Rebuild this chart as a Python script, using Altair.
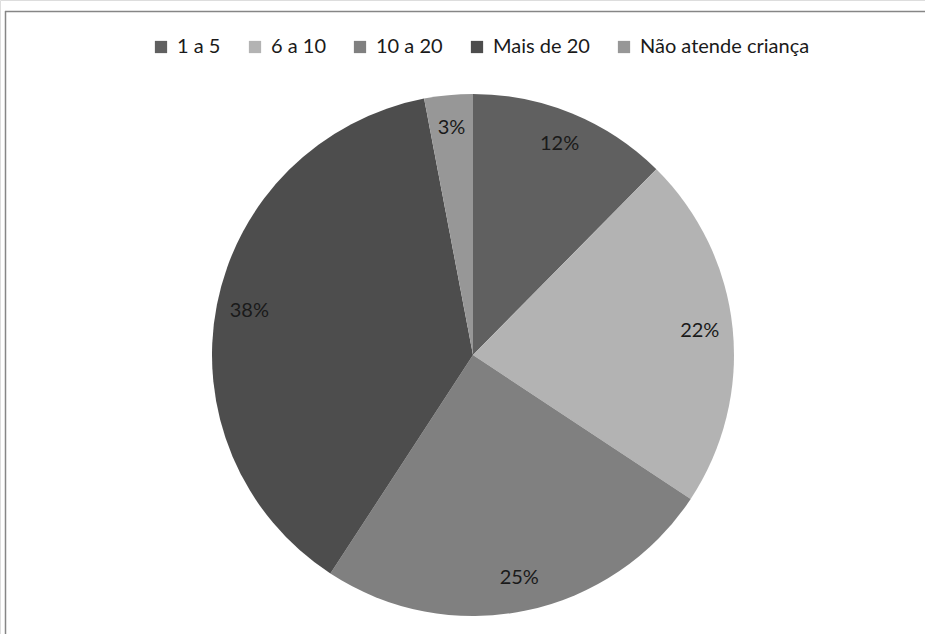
import altair as alt
import pandas as pd

categories = ["1 a 5", "6 a 10", "10 a 20", "Mais de 20", "Não atende criança"]
values = [12.4, 21.9, 24.9, 37.8, 3.0]
labels = ["12%", "22%", "25%", "38%", "3%"]
colors = ["#606060", "#b3b3b3", "#808080", "#4d4d4d", "#979797"]

df = pd.DataFrame({
    "cat": categories,
    "val": values,
    "label": labels,
    "idx": list(range(len(categories))),
})

CX, CY, R = 473, 355, 261

one = pd.DataFrame({"a": [0]})
top_line = alt.Chart(one).mark_rule(color="#868686", strokeWidth=1.5).encode(
    x=alt.value(5), x2=alt.value(925), y=alt.value(11.5)
)
left_line = alt.Chart(one).mark_rule(color="#868686", strokeWidth=1.5).encode(
    x=alt.value(5.5), y=alt.value(11), y2=alt.value(634)
)

base = alt.Chart(df).encode(
    theta=alt.Theta("val:Q", stack=True),
    order=alt.Order("idx:Q", sort="ascending"),
)

pie = base.mark_arc(outerRadius=R).encode(
    x=alt.value(CX),
    y=alt.value(CY),
    color=alt.Color(
        "cat:N",
        scale=alt.Scale(domain=categories, range=colors),
        legend=alt.Legend(
            title=None,
            orient="none",
            legendX=151,
            legendY=37,
            direction="horizontal",
            symbolType="square",
            symbolSize=150,
            symbolStrokeWidth=0,
            labelFont="Lato",
            labelFontSize=20,
            labelColor="#1a1a1a",
            columnPadding=24,
            labelOffset=6,
            labelLimit=400,
        ),
    ),
)

text = base.mark_text(
    radius=228, font="Lato", fontSize=20, color="#1a1a1a"
).encode(
    x=alt.value(CX),
    y=alt.value(CY),
    text="label:N",
)

chart = alt.layer(top_line, left_line, pie, text).properties(
    width=925, height=634, padding=0, autosize=alt.AutoSizeParams(type="none")
).configure_view(stroke=None).configure(background="white")

chart.save("out.html", embed_options={"renderer": "svg", "actions": False})
